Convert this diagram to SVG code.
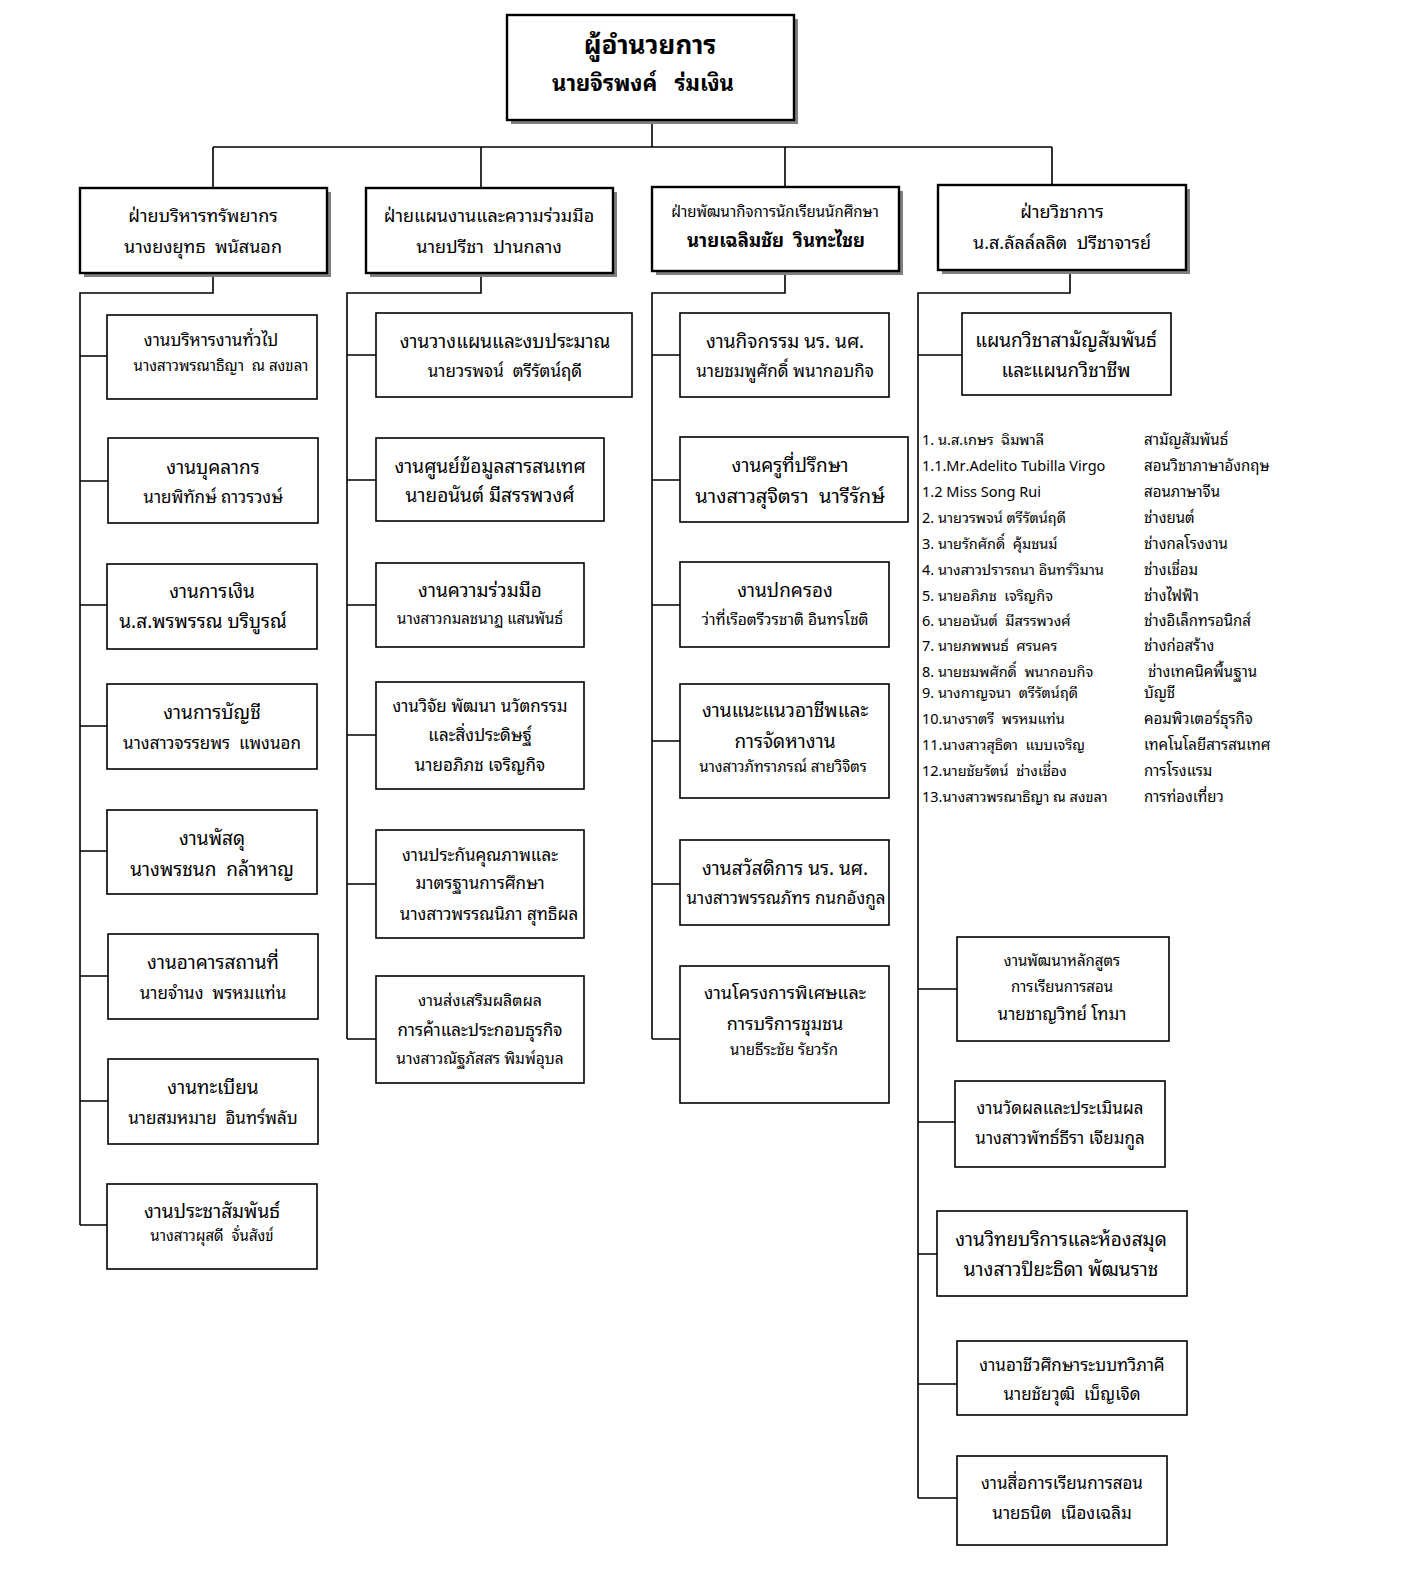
<svg xmlns="http://www.w3.org/2000/svg" width="1403" height="1575" viewBox="0 0 1403 1575">
<style>
text{font-family:"Noto Sans Thai Looped","Loma","Garuda","Umpush","Noto Sans Thai","Noto Sans","DejaVu Sans",sans-serif;fill:#000;text-anchor:middle;white-space:pre}
.b{fill:#fff;stroke:#000;stroke-width:1.6}
.bb{fill:#fff;stroke:#000;stroke-width:2.4}
.sh{fill:#808080}
.c{fill:none;stroke:#000;stroke-width:1.6}
.t{font-size:19px}
.n{font-size:17px}
.s{font-size:15px}
.l{font-size:14.5px;text-anchor:start}
.r{font-size:15px;text-anchor:start}
.h{font-size:18px}
</style>
<rect width="1403" height="1575" fill="#fff"/>
<g id="connectors">
<path class="c" d="M652 120V147M213 147H1052M213 147V188M481 147V188M785 147V187M1052 147V185"/>
<path class="c" d="M213 273V293H80V1225M80 356H107M80 481H108M80 605H107M80 726H107M80 851H107M80 976H108M80 1101H108M80 1225H107"/>
<path class="c" d="M481 273V293H347V1039M347 355H376M347 480H376M347 605H376M347 735H376M347 884H376M347 1039H376"/>
<path class="c" d="M785 271V293H652V1039M652 355H680M652 480H680M652 605H680M652 741H680M652 884H680M652 1039H680"/>
<path class="c" d="M1070 270V293H918V1498M918 355H962M918 989H957M918 1122H955M918 1254H937M918 1384H957M918 1498H957"/>
</g>
<g id="director">
<rect class="sh" x="511" y="19" width="287" height="105"/>
<rect class="bb" x="507" y="15" width="287" height="105"/>
<text x="650" y="54" font-size="26" font-weight="bold">ผู้อำนวยการ</text>
<text x="643" y="91" font-size="22" font-weight="bold">นายจิรพงค์   ร่มเงิน</text>
</g>
<g id="div1">
<rect class="sh" x="84" y="192" width="247" height="85"/>
<rect class="bb" x="80" y="188" width="247" height="85"/>
<text class="h" x="203" y="222">ฝ่ายบริหารทรัพยากร</text>
<text class="h" x="203" y="253">นางยงยุทธ  พนัสนอก</text>
</g>
<g id="div2">
<rect class="sh" x="370" y="192" width="247" height="85"/>
<rect class="bb" x="366" y="188" width="247" height="85"/>
<text class="h" x="489" y="222">ฝ่ายแผนงานและความร่วมมือ</text>
<text class="h" x="489" y="253">นายปรีชา  ปานกลาง</text>
</g>
<g id="div3">
<rect class="sh" x="656" y="191" width="247" height="84"/>
<rect class="bb" x="652" y="187" width="247" height="84"/>
<text x="775" y="217" font-size="15">ฝ่ายพัฒนากิจการนักเรียนนักศึกษา</text>
<text x="776" y="247" font-size="18.5" font-weight="bold">นายเฉลิมชัย  วินทะไชย</text>
</g>
<g id="div4">
<rect class="sh" x="942" y="189" width="248" height="85"/>
<rect class="bb" x="938" y="185" width="248" height="85"/>
<text class="h" x="1062" y="218">ฝ่ายวิชาการ</text>
<text class="h" x="1062" y="249">น.ส.ลัลล์ลลิต  ปรีชาจารย์</text>
</g>
<g id="c1n1"><rect class="b" x="107" y="315" width="210" height="84"/><text class="n" x="211" y="346">งานบริหารงานทั่วไป</text><text class="s" x="221" y="371">นางสาวพรณาธิญา  ณ สงขลา</text></g>
<g id="c1n2"><rect class="b" x="108" y="438" width="210" height="85"/><text class="t" x="213" y="474">งานบุคลากร</text><text class="n" x="213" y="503">นายพิทักษ์ ถาวรวงษ์</text></g>
<g id="c1n3"><rect class="b" x="107" y="564" width="210" height="85"/><text class="t" x="212" y="598">งานการเงิน</text><text class="t" x="203" y="628">น.ส.พรพรรณ บริบูรณ์</text></g>
<g id="c1n4"><rect class="b" x="107" y="684" width="210" height="85"/><text class="t" x="212" y="719">งานการบัญชี</text><text class="n" x="212" y="749">นางสาวจรรยพร  แพงนอก</text></g>
<g id="c1n5"><rect class="b" x="107" y="810" width="210" height="84"/><text class="t" x="212" y="845">งานพัสดุ</text><text class="t" x="212" y="876">นางพรชนก  กล้าหาญ</text></g>
<g id="c1n6"><rect class="b" x="108" y="934" width="210" height="85"/><text class="t" x="213" y="969">งานอาคารสถานที่</text><text class="n" x="213" y="999">นายจำนง  พรหมแท่น</text></g>
<g id="c1n7"><rect class="b" x="108" y="1059" width="210" height="85"/><text class="t" x="213" y="1094">งานทะเบียน</text><text class="n" x="213" y="1124">นายสมหมาย  อินทร์พลับ</text></g>
<g id="c1n8"><rect class="b" x="107" y="1184" width="210" height="85"/><text class="t" x="212" y="1218">งานประชาสัมพันธ์</text><text class="s" x="212" y="1241" font-size="14">นางสาวผุสดี  จั่นสังข์</text></g>
<g id="c2n1"><rect class="b" x="376" y="313" width="256" height="84"/><text class="t" x="505" y="348">งานวางแผนและงบประมาณ</text><text class="n" x="505" y="377">นายวรพจน์  ตรีรัตน์ฤดี</text></g>
<g id="c2n2"><rect class="b" x="376" y="438" width="228" height="83"/><text class="t" x="490" y="473">งานศูนย์ข้อมูลสารสนเทศ</text><text class="t" x="490" y="502">นายอนันต์ มีสรรพวงศ์</text></g>
<g id="c2n3"><rect class="b" x="376" y="563" width="208" height="84"/><text class="t" x="480" y="597">งานความร่วมมือ</text><text class="s" x="480" y="624">นางสาวกมลชนาฏ แสนพันธ์</text></g>
<g id="c2n4"><rect class="b" x="376" y="682" width="208" height="107"/><text class="n" x="480" y="712">งานวิจัย พัฒนา นวัตกรรม</text><text class="n" x="480" y="741">และสิ่งประดิษฐ์</text><text class="n" x="480" y="771">นายอภิภช เจริญกิจ</text></g>
<g id="c2n5"><rect class="b" x="376" y="830" width="208" height="108"/><text class="n" x="480" y="861">งานประกันคุณภาพและ</text><text class="n" x="480" y="889">มาตรฐานการศึกษา</text><text class="n" x="489" y="920">นางสาวพรรณนิภา สุทธิผล</text></g>
<g id="c2n6"><rect class="b" x="376" y="976" width="208" height="107"/><text x="480" y="1006" font-size="16">งานส่งเสริมผลิตผล</text><text class="n" x="480" y="1036">การค้าและประกอบธุรกิจ</text><text x="480" y="1064" font-size="15.5">นางสาวณัฐภัสสร พิมพ์อุบล</text></g>
<g id="c3n1"><rect class="b" x="680" y="313" width="209" height="84"/><text class="t" x="785" y="348">งานกิจกรรม นร. นศ.</text><text class="n" x="785" y="377">นายชมพูศักดิ์ พนากอบกิจ</text></g>
<g id="c3n2"><rect class="b" x="680" y="437" width="228" height="85"/><text class="t" x="790" y="472">งานครูที่ปรึกษา</text><text x="790" y="503" font-size="20">นางสาวสุจิตรา  นารีรักษ์</text></g>
<g id="c3n3"><rect class="b" x="680" y="562" width="209" height="85"/><text class="t" x="785" y="597">งานปกครอง</text><text x="785" y="625" font-size="15.5">ว่าที่เรือตรีวรชาติ อินทรโชติ</text></g>
<g id="c3n4"><rect class="b" x="680" y="684" width="209" height="114"/><text class="t" x="785" y="717">งานแนะแนวอาชีพและ</text><text class="t" x="785" y="748">การจัดหางาน</text><text class="s" x="783" y="772">นางสาวภัทราภรณ์ สายวิจิตร</text></g>
<g id="c3n5"><rect class="b" x="680" y="840" width="209" height="85"/><text class="t" x="785" y="875">งานสวัสดิการ นร. นศ.</text><text class="n" x="786" y="904">นางสาวพรรณภัทร กนกอังกูล</text></g>
<g id="c3n6"><rect class="b" x="680" y="966" width="209" height="137"/><text x="785" y="999" font-size="18">งานโครงการพิเศษและ</text><text x="785" y="1030" font-size="18">การบริการชุมชน</text><text class="s" x="784" y="1055" font-size="14">นายธีระชัย รัยวรัก</text></g>
<g id="c4n1"><rect class="b" x="962" y="313" width="209" height="82"/><text class="t" x="1066" y="347">แผนกวิชาสามัญสัมพันธ์</text><text class="t" x="1066" y="377">และแผนกวิชาชีพ</text></g>
<g id="c4list">
<text class="l" x="922" y="445">1. น.ส.เกษร  ฉิมพาลี</text><text class="r" x="1144" y="445">สามัญสัมพันธ์</text>
<text class="l" x="922" y="471">1.1.Mr.Adelito Tubilla Virgo</text><text class="r" x="1144" y="471">สอนวิชาภาษาอังกฤษ</text>
<text class="l" x="922" y="497">1.2 Miss Song Rui</text><text class="r" x="1144" y="497">สอนภาษาจีน</text>
<text class="l" x="922" y="523">2. นายวรพจน์ ตรีรัตน์ฤดี</text><text class="r" x="1144" y="523">ช่างยนต์</text>
<text class="l" x="922" y="549">3. นายรักศักดิ์  คุ้มชนม์</text><text class="r" x="1144" y="549">ช่างกลโรงงาน</text>
<text class="l" x="922" y="575" font-size="13.5">4. นางสาวปรารถนา อินทร์วิมาน</text><text class="r" x="1144" y="575">ช่างเชื่อม</text>
<text class="l" x="922" y="601">5. นายอภิภช  เจริญกิจ</text><text class="r" x="1144" y="601">ช่างไฟฟ้า</text>
<text class="l" x="922" y="626">6. นายอนันต์  มีสรรพวงศ์</text><text class="r" x="1144" y="626">ช่างอิเล็กทรอนิกส์</text>
<text class="l" x="922" y="651">7. นายภพพนธ์  ศรนคร</text><text class="r" x="1144" y="651">ช่างก่อสร้าง</text>
<text class="l" x="922" y="677">8. นายชมพศักดิ์  พนากอบกิจ</text><text class="r" x="1144" y="677"> ช่างเทคนิคพื้นฐาน</text>
<text class="l" x="922" y="698">9. นางกาญจนา  ตรีรัตน์ฤดี</text><text class="r" x="1144" y="698">บัญชี</text>
<text class="l" x="922" y="724">10.นางราตรี  พรหมแท่น</text><text class="r" x="1144" y="724">คอมพิวเตอร์ธุรกิจ</text>
<text class="l" x="922" y="750">11.นางสาวสุธิดา  แบบเจริญ</text><text class="r" x="1144" y="750">เทคโนโลยีสารสนเทศ</text>
<text class="l" x="922" y="776">12.นายชัยรัตน์  ช่างเชื่อง</text><text class="r" x="1144" y="776">การโรงแรม</text>
<text class="l" x="922" y="802">13.นางสาวพรณาธิญา ณ สงขลา</text><text class="r" x="1144" y="802">การท่องเที่ยว</text>
</g>
<g id="c4n2"><rect class="b" x="957" y="937" width="212" height="104"/><text class="s" x="1062" y="966">งานพัฒนาหลักสูตร</text><text class="s" x="1062" y="992">การเรียนการสอน</text><text class="n" x="1062" y="1020">นายชาญวิทย์ โทมา</text></g>
<g id="c4n3"><rect class="b" x="955" y="1081" width="210" height="86"/><text class="n" x="1060" y="1114">งานวัดผลและประเมินผล</text><text class="n" x="1060" y="1144">นางสาวพัทธ์ธีรา เจียมกูล</text></g>
<g id="c4n4"><rect class="b" x="937" y="1211" width="250" height="85"/><text class="t" x="1061" y="1246">งานวิทยบริการและห้องสมุด</text><text class="t" x="1061" y="1276">นางสาวปิยะธิดา พัฒนราช</text></g>
<g id="c4n5"><rect class="b" x="957" y="1341" width="230" height="74"/><text class="n" x="1072" y="1371">งานอาชีวศึกษาระบบทวิภาคี</text><text class="n" x="1072" y="1400">นายชัยวุฒิ  เบ็ญเจิด</text></g>
<g id="c4n6"><rect class="b" x="957" y="1456" width="210" height="89"/><text class="n" x="1062" y="1489">งานสื่อการเรียนการสอน</text><text class="n" x="1062" y="1519">นายธนิต  เนืองเฉลิม</text></g>
</svg>
